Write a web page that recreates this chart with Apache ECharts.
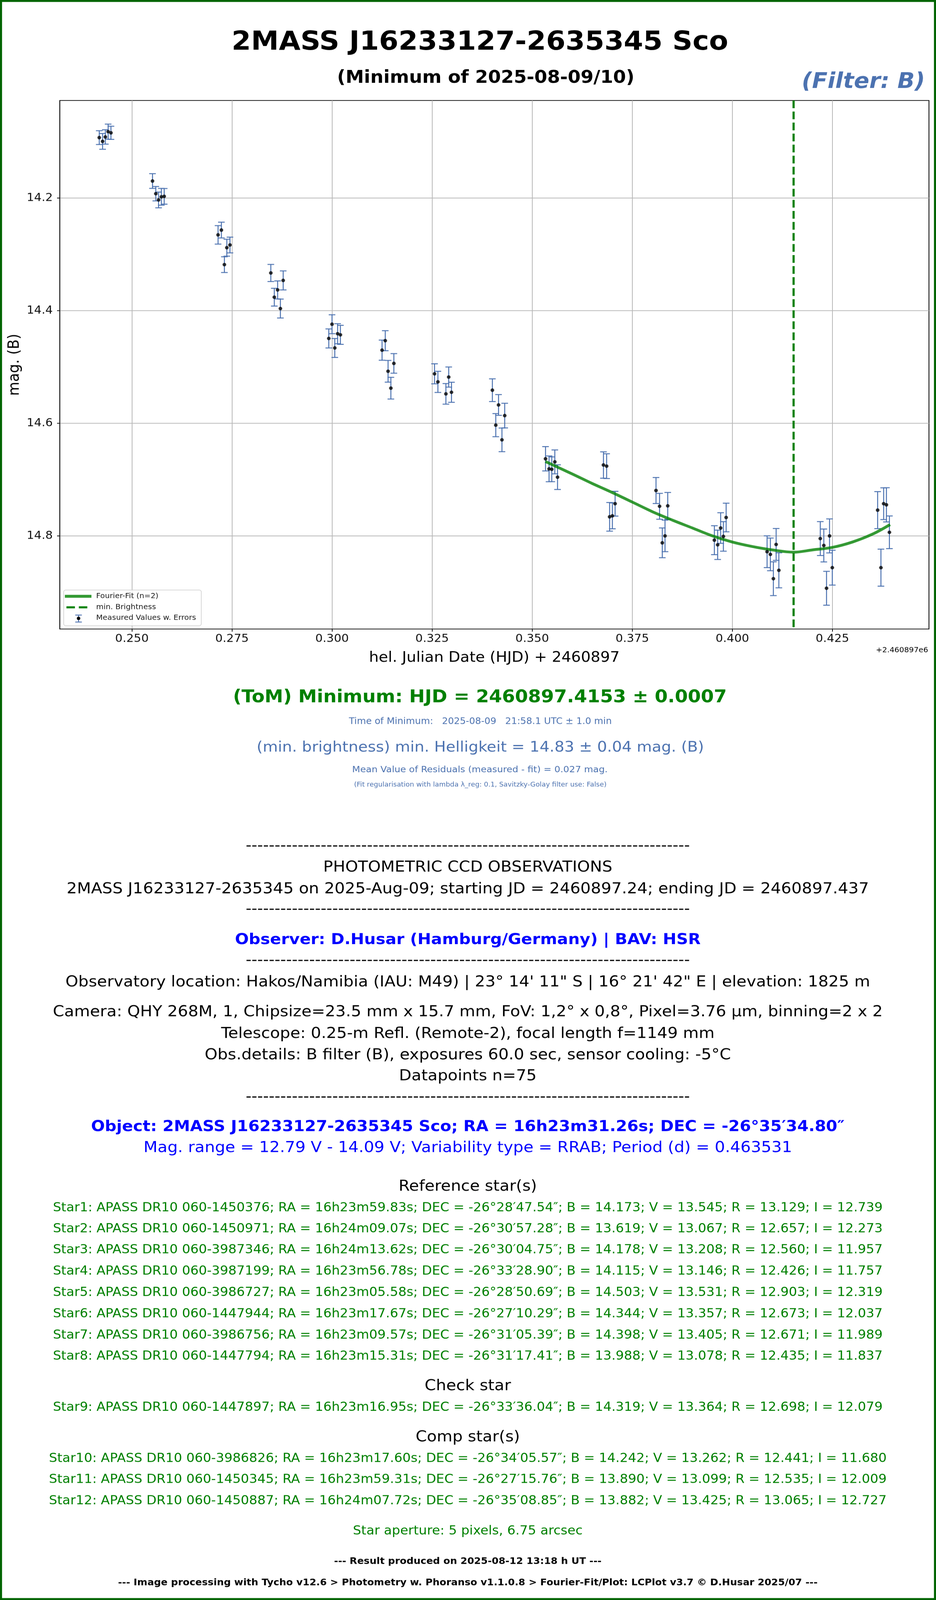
<!DOCTYPE html>
<html>
<head>
<meta charset="utf-8">
<script src="https://cdn.jsdelivr.net/npm/echarts@6/dist/echarts.min.js"></script>
<style>
html,body{margin:0;padding:0;background:#fff;overflow:hidden;}
#wrap{position:fixed;left:0;top:0;width:100vw;height:100vh;overflow:hidden;background:#fff;}
#chart{width:2395px;height:4347px;transform-origin:0 0;}
</style>
</head>
<body>
<div id="wrap"><div id="chart"></div></div>
<script>
// ---------------- DATA ----------------
// HJD - 2460897
const hjd = [
  0.24184, 0.24267, 0.24336, 0.24406, 0.24476,
  0.25514, 0.25597, 0.25666, 0.25735, 0.25806,
  0.27152, 0.27235, 0.27310, 0.27371, 0.27449,
  0.28470, 0.28557, 0.28640, 0.28709, 0.28779,
  0.29918, 0.29999, 0.30068, 0.30139, 0.30208,
  0.31249, 0.31329, 0.31399, 0.31469, 0.31544,
  0.32560, 0.32644, 0.32844, 0.32914, 0.32983,
  0.34005, 0.34090, 0.34159, 0.34244, 0.34313,
  0.35333, 0.35421, 0.35489, 0.35565, 0.35633,
  0.36780, 0.36859, 0.36934, 0.37003, 0.37071,
  0.38093, 0.38182, 0.38250, 0.38318, 0.38386,
  0.39551, 0.39633, 0.39708, 0.39776, 0.39845,
  0.40868, 0.40950, 0.41025, 0.41094, 0.41162,
  0.42197, 0.42285, 0.42353, 0.42428, 0.42497,
  0.43630, 0.43712, 0.43780, 0.43849, 0.43924
];
const magB = [
  14.0927, 14.0994, 14.0915, 14.0821, 14.0842,
  14.1698, 14.1923, 14.2034, 14.1978, 14.1970,
  14.2654, 14.2569, 14.3183, 14.2882, 14.2834,
  14.3331, 14.3761, 14.3632, 14.3963, 14.3463,
  14.4494, 14.4241, 14.4663, 14.4410, 14.4430,
  14.4702, 14.4534, 14.5077, 14.5377, 14.4937,
  14.5122, 14.5265, 14.5478, 14.5180, 14.5450,
  14.5413, 14.6034, 14.5675, 14.6295, 14.5864,
  14.6631, 14.6810, 14.6818, 14.6686, 14.6958,
  14.6742, 14.6762, 14.7662, 14.7645, 14.7429,
  14.7195, 14.7475, 14.8124, 14.8001, 14.7467,
  14.8077, 14.8159, 14.7861, 14.8010, 14.7674,
  14.8282, 14.8329, 14.8761, 14.8153, 14.8612,
  14.8048, 14.8171, 14.8931, 14.8001, 14.8565,
  14.7543, 14.8565, 14.7429, 14.7449, 14.7937
];
const magErr = [
  0.0123, 0.0140, 0.0128, 0.0134, 0.0117,
  0.0131, 0.0128, 0.0140, 0.0149, 0.0139,
  0.0164, 0.0140, 0.0140, 0.0150, 0.0140,
  0.0152, 0.0158, 0.0160, 0.0168, 0.0169,
  0.0169, 0.0168, 0.0168, 0.0178, 0.0169,
  0.0179, 0.0178, 0.0193, 0.0193, 0.0174,
  0.0178, 0.0188, 0.0183, 0.0179, 0.0178,
  0.0202, 0.0205, 0.0184, 0.0210, 0.0219,
  0.0216, 0.0229, 0.0220, 0.0212, 0.0219,
  0.0234, 0.0220, 0.0254, 0.0230, 0.0220,
  0.0231, 0.0230, 0.0264, 0.0280, 0.0238,
  0.0257, 0.0261, 0.0272, 0.0262, 0.0254,
  0.0282, 0.0290, 0.0300, 0.0283, 0.0311,
  0.0301, 0.0292, 0.0301, 0.0302, 0.0310,
  0.0329, 0.0329, 0.0282, 0.0304, 0.0290
];
// Fourier fit (n=2)
const fitHjd = [0.3533, 0.3600, 0.3650, 0.3700, 0.3750, 0.3800, 0.3850, 0.3900, 0.3950,
                0.4000, 0.4050, 0.4100, 0.4153, 0.4200, 0.4250, 0.4300, 0.4350, 0.4394];
const fitMag = [14.668, 14.690, 14.707, 14.723, 14.740, 14.757, 14.772, 14.786, 14.800,
                14.811, 14.819, 14.825, 14.829, 14.825, 14.8205, 14.811, 14.797, 14.780];
const minHjd = 0.4153;
const xTicks = [0.250, 0.275, 0.300, 0.325, 0.350, 0.375, 0.400, 0.425];
const yTicks = [14.2, 14.4, 14.6, 14.8];
const xRange = [0.23198, 0.44912];
const yRange = [14.02676, 14.96552];

const titleText = '2MASS J16233127-2635345 Sco';
const subTitleText = '(Minimum of 2025-08-09/10)';
const filterText = '(Filter: B)';
const xAxisTitle = 'hel. Julian Date (HJD) + 2460897';
const yAxisTitle = 'mag. (B)';
const offsetText = '+2.460897e6';
const legendNames = ['Fourier-Fit (n=2)', 'min. Brightness', 'Measured Values w. Errors'];

const resultLines = [
  '(ToM) Minimum: HJD = 2460897.4153 ± 0.0007',
  'Time of Minimum:   2025-08-09   21:58.1 UTC ± 1.0 min',
  '(min. brightness) min. Helligkeit = 14.83 ± 0.04 mag. (B)',
  'Mean Value of Residuals (measured - fit) = 0.027 mag.',
  '(Fit regularisation with lambda λ_reg: 0.1, Savitzky-Golay filter use: False)'
];
const dashLine = '-----------------------------------------------------------------------------';
const obsLines = [
  'PHOTOMETRIC CCD OBSERVATIONS',
  '2MASS J16233127-2635345 on 2025-Aug-09; starting JD = 2460897.24; ending JD = 2460897.437',
  'Observer: D.Husar (Hamburg/Germany) | BAV: HSR',
  'Observatory location: Hakos/Namibia (IAU: M49) | 23° 14\' 11" S | 16° 21\' 42" E | elevation: 1825 m',
  'Camera: QHY 268M, 1, Chipsize=23.5 mm x 15.7 mm, FoV: 1,2° x 0,8°, Pixel=3.76 µm, binning=2 x 2',
  'Telescope: 0.25-m Refl. (Remote-2), focal length f=1149 mm',
  'Obs.details: B filter (B), exposures 60.0 sec, sensor cooling: -5°C',
  'Datapoints n=75'
];
const objectLines = [
  'Object: 2MASS J16233127-2635345 Sco; RA = 16h23m31.26s; DEC = -26°35′34.80″',
  'Mag. range = 12.79 V - 14.09 V; Variability type = RRAB; Period (d) = 0.463531'
];
const refStars = [
  'Star1: APASS DR10 060-1450376; RA = 16h23m59.83s; DEC = -26°28′47.54″; B = 14.173; V = 13.545; R = 13.129; I = 12.739',
  'Star2: APASS DR10 060-1450971; RA = 16h24m09.07s; DEC = -26°30′57.28″; B = 13.619; V = 13.067; R = 12.657; I = 12.273',
  'Star3: APASS DR10 060-3987346; RA = 16h24m13.62s; DEC = -26°30′04.75″; B = 14.178; V = 13.208; R = 12.560; I = 11.957',
  'Star4: APASS DR10 060-3987199; RA = 16h23m56.78s; DEC = -26°33′28.90″; B = 14.115; V = 13.146; R = 12.426; I = 11.757',
  'Star5: APASS DR10 060-3986727; RA = 16h23m05.58s; DEC = -26°28′50.69″; B = 14.503; V = 13.531; R = 12.903; I = 12.319',
  'Star6: APASS DR10 060-1447944; RA = 16h23m17.67s; DEC = -26°27′10.29″; B = 14.344; V = 13.357; R = 12.673; I = 12.037',
  'Star7: APASS DR10 060-3986756; RA = 16h23m09.57s; DEC = -26°31′05.39″; B = 14.398; V = 13.405; R = 12.671; I = 11.989',
  'Star8: APASS DR10 060-1447794; RA = 16h23m15.31s; DEC = -26°31′17.41″; B = 13.988; V = 13.078; R = 12.435; I = 11.837'
];
const checkStars = [
  'Star9: APASS DR10 060-1447897; RA = 16h23m16.95s; DEC = -26°33′36.04″; B = 14.319; V = 13.364; R = 12.698; I = 12.079'
];
const compStars = [
  'Star10: APASS DR10 060-3986826; RA = 16h23m17.60s; DEC = -26°34′05.57″; B = 14.242; V = 13.262; R = 12.441; I = 11.680',
  'Star11: APASS DR10 060-1450345; RA = 16h23m59.31s; DEC = -26°27′15.76″; B = 13.890; V = 13.099; R = 12.535; I = 12.009',
  'Star12: APASS DR10 060-1450887; RA = 16h24m07.72s; DEC = -26°35′08.85″; B = 13.882; V = 13.425; R = 13.065; I = 12.727'
];
const headings = ['Reference star(s)', 'Check star', 'Comp star(s)'];
const apertureText = 'Star aperture: 5 pixels, 6.75 arcsec';
const footerLines = [
  '--- Result produced on 2025-08-12 13:18 h UT ---',
  '--- Image processing with Tycho v12.6 > Photometry w. Phoranso v1.1.0.8 > Fourier-Fit/Plot: LCPlot v3.7 © D.Husar 2025/07 ---'
];

// ---------------- PAGE FIT ----------------
// The design is 2395 x 4347; fit it into the actual viewport.
(function fit() {
  const el = document.getElementById('chart');
  const sx = (window.innerWidth || 2395) / 2395;
  const sy = (window.innerHeight || 4347) / 4347;
  el.style.transform = 'scale(' + sx + ',' + sy + ')';
})();

// ---------------- CHART ----------------
const FONT = '"DejaVu Sans", "Liberation Sans", sans-serif';
const BLUE = '#4c72b0';
const GREEN = '#008000';

// font size that makes a text line as wide as it is in the reference layout
const measureCtx = document.createElement('canvas').getContext('2d');
function fitSize(text, targetWidth, bold, fallback) {
  measureCtx.font = (bold ? 'bold ' : '') + '100px ' + FONT;
  const w = measureCtx.measureText(text).width;
  if (!w || !isFinite(w)) return fallback;
  const s = 100 * targetWidth / w;
  return (Math.abs(s - fallback) / fallback < 0.08) ? s : fallback;
}

function txt(text, x, y, size, color, opts) {
  opts = opts || {};
  if (opts.width) size = fitSize(text, opts.width, !!opts.bold, size);
  return {
    type: 'text', z: 100,
    style: {
      text: text, x: x, y: y,
      fontSize: size, fontFamily: FONT,
      fontWeight: opts.bold ? 'bold' : 'normal',
      fontStyle: opts.italic ? 'italic' : 'normal',
      fill: color,
      align: opts.align || 'center', textAlign: opts.align || 'center',
      verticalAlign: 'middle', textVerticalAlign: 'middle'
    }
  };
}

const graphics = [];
graphics.push({type: 'rect', z: 200, shape: {x: 2.5, y: 2.5, width: 2390, height: 4342},
  style: {fill: 'none', stroke: '#006400', lineWidth: 5.5}});
graphics.push(txt(titleText, 1228, 116, 71.5, '#000', {bold: true, width: 1271}));
graphics.push(txt(subTitleText, 1243, 213, 47.5, '#000', {bold: true, width: 761}));
graphics.push(txt(filterText, 2367, 224, 58, BLUE, {bold: true, italic: true, align: 'right'}));
graphics.push(txt(offsetText, 2375, 1767, 19.5, '#000', {align: 'right'}));

graphics.push({type: 'rect', z: 110, shape: {x: 163, y: 1603, width: 352, height: 97, r: 5},
  style: {fill: 'rgba(255,255,255,0.8)', stroke: '#cccccc', lineWidth: 1.5}});
graphics.push({type: 'line', z: 111, shape: {x1: 166, y1: 1620, x2: 234, y2: 1620},
  style: {stroke: 'rgba(0,128,0,0.8)', lineWidth: 8}});
graphics.push({type: 'line', z: 111, shape: {x1: 170, y1: 1650, x2: 224, y2: 1650},
  style: {stroke: GREEN, lineWidth: 5.5, lineDash: [21.7, 10]}});
graphics.push({type: 'line', z: 111, shape: {x1: 201, y1: 1671, x2: 201, y2: 1690}, style: {stroke: BLUE, lineWidth: 2.4}});
graphics.push({type: 'line', z: 111, shape: {x1: 192.5, y1: 1671, x2: 209.5, y2: 1671}, style: {stroke: BLUE, lineWidth: 2.4}});
graphics.push({type: 'line', z: 111, shape: {x1: 192.5, y1: 1690, x2: 209.5, y2: 1690}, style: {stroke: BLUE, lineWidth: 2.4}});
graphics.push({type: 'circle', z: 112, shape: {cx: 201, cy: 1680, r: 4.5}, style: {fill: '#000'}});
const legY = [1620, 1650, 1679];
legendNames.forEach((n, i) => graphics.push(Object.assign(txt(n, 246, legY[i], 19.5, '#1a1a1a', {align: 'left'}), {z: 112})));

graphics.push(txt(resultLines[0], 1228, 1896, 48, GREEN, {bold: true, width: 1264}));
graphics.push(txt(resultLines[1], 1229, 1961, 23.3, BLUE, {width: 673}));
graphics.push(txt(resultLines[2], 1229, 2032, 40, BLUE, {width: 1145}));
graphics.push(txt(resultLines[3], 1228, 2092, 23.3, BLUE, {width: 654}));
graphics.push(txt(resultLines[4], 1229, 2132, 17.5, BLUE, {width: 733}));

const CX = 1197;
graphics.push(txt(dashLine, CX, 2299, 41, '#000', {width: 1137}));
graphics.push(txt(obsLines[0], CX, 2357, 41, '#000', {width: 740}));
graphics.push(txt(obsLines[1], CX, 2416, 41, '#000', {width: 2053}));
graphics.push(txt(dashLine, CX, 2471, 41, '#000', {width: 1137}));
graphics.push(txt(obsLines[2], CX, 2554, 41, '#0000ff', {bold: true, width: 1192}));
graphics.push(txt(dashLine, CX, 2610, 41, '#000', {width: 1137}));
graphics.push(txt(obsLines[3], CX, 2669, 41, '#000', {width: 2059}));
graphics.push(txt(obsLines[4], CX, 2750, 41, '#000', {width: 2124}));
graphics.push(txt(obsLines[5], CX, 2809, 41, '#000', {width: 1263}));
graphics.push(txt(obsLines[6], CX, 2867, 41, '#000', {width: 1347}));
graphics.push(txt(obsLines[7], CX, 2924, 41, '#000', {width: 352}));
graphics.push(txt(dashLine, CX, 2981, 41, '#000', {width: 1137}));
graphics.push(txt(objectLines[0], CX, 3062, 41, '#0000ff', {bold: true, width: 1929}));
graphics.push(txt(objectLines[1], CX, 3119, 41, '#0000ff', {width: 1660}));
graphics.push(txt(headings[0], CX, 3224, 39.5, '#000', {width: 354}));
const refY = [3282, 3339, 3396, 3454.5, 3512, 3570.5, 3628, 3685];
refStars.forEach((s, i) => graphics.push(txt(s, CX, refY[i], 33, GREEN, {width: 2124})));
graphics.push(txt(headings[1], CX, 3766, 40, '#000', {width: 221}));
graphics.push(txt(checkStars[0], CX, 3824.5, 33, GREEN, {width: 2124}));
graphics.push(txt(headings[2], CX, 3905, 40, '#000', {width: 267}));
const compY = [3963, 4020.5, 4078.5];
compStars.forEach((s, i) => graphics.push(txt(s, CX, compY[i], 33, GREEN, {width: 2145})));
graphics.push(txt(apertureText, CX, 4160, 33, GREEN, {width: 588}));
graphics.push(txt(footerLines[0], CX, 4242.5, 24.5, '#000', {bold: true, width: 685}));
graphics.push(txt(footerLines[1], CX, 4300.5, 24.5, '#000', {bold: true, width: 1791}));

const errData = hjd.map((x, i) => [x, magB[i] - magErr[i], magB[i] + magErr[i]]);
const ptData = hjd.map((x, i) => [x, magB[i]]);
const fitData = fitHjd.map((x, i) => [x, fitMag[i]]);
const minLineData = [[minHjd, yRange[0]], [minHjd, yRange[1]]];

const chart = echarts.init(document.getElementById('chart'), null, {renderer: 'canvas', width: 2395, height: 4347});
chart.setOption({
  backgroundColor: '#ffffff',
  animation: false,
  textStyle: {fontFamily: FONT},
  grid: {left: 153, top: 273, width: 2224, height: 1436, show: true,
         borderColor: '#111', borderWidth: 2.2, backgroundColor: 'transparent'},
  xAxis: {
    type: 'value', min: xRange[0], max: xRange[1],
    name: xAxisTitle, nameLocation: 'middle', nameGap: 59,
    nameTextStyle: {fontSize: 39, color: '#000', fontFamily: FONT},
    axisLine: {show: true, onZero: false, lineStyle: {color: '#111', width: 2.2}},
    axisTick: {show: true, length: 7, lineStyle: {color: '#111', width: 2}, customValues: xTicks},
    axisLabel: {fontSize: 30, color: '#111', margin: 12, fontFamily: FONT, customValues: xTicks,
                formatter: v => v.toFixed(3)},
    splitLine: {show: true, lineStyle: {color: '#b8b8b8', width: 2}}
  },
  yAxis: {
    type: 'value', inverse: true, min: yRange[0], max: yRange[1],
    name: yAxisTitle, nameLocation: 'middle', nameGap: 96, nameRotate: 90,
    nameTextStyle: {fontSize: 39, color: '#000', fontFamily: FONT},
    axisLine: {show: true, onZero: false, lineStyle: {color: '#111', width: 2.2}},
    axisTick: {show: true, length: 7, lineStyle: {color: '#111', width: 2}, customValues: yTicks},
    axisLabel: {fontSize: 30, color: '#111', margin: 18, fontFamily: FONT, customValues: yTicks,
                formatter: v => v.toFixed(1)},
    splitLine: {show: true, lineStyle: {color: '#b8b8b8', width: 2}}
  },
  series: [
    {
      name: 'Measured Values w. Errors (bars)', type: 'custom', z: 2, clip: true,
      data: errData,
      encode: {x: 0, y: [1, 2]},
      renderItem: function (params, api) {
        const x = api.value(0);
        const lo = api.coord([x, api.value(1)]);
        const hi = api.coord([x, api.value(2)]);
        const cap = 8.5;
        const st = {stroke: BLUE, lineWidth: 2.5};
        return {type: 'group', children: [
          {type: 'line', shape: {x1: lo[0], y1: lo[1], x2: hi[0], y2: hi[1]}, style: st},
          {type: 'line', shape: {x1: lo[0] - cap, y1: lo[1], x2: lo[0] + cap, y2: lo[1]}, style: st},
          {type: 'line', shape: {x1: hi[0] - cap, y1: hi[1], x2: hi[0] + cap, y2: hi[1]}, style: st}
        ]};
      }
    },
    {
      name: legendNames[0], type: 'line', z: 4, data: fitData, smooth: 0.35,
      showSymbol: false, symbol: 'none',
      lineStyle: {color: 'rgba(0,128,0,0.8)', width: 7.5}
    },
    {
      name: legendNames[1], type: 'line', z: 5, data: minLineData,
      showSymbol: false, symbol: 'none',
      lineStyle: {color: GREEN, width: 5.5, type: [21, 9]}
    },
    {
      name: legendNames[2], type: 'scatter', z: 6, data: ptData,
      symbol: 'circle', symbolSize: 9.5,
      itemStyle: {color: '#000'}
    }
  ],
  graphic: graphics
});
</script>
</body>
</html>
